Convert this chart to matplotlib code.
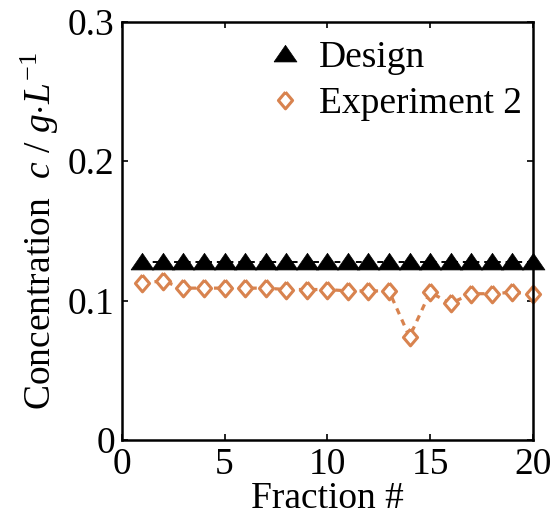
import numpy as np
import matplotlib.pyplot as plt

plt.rcParams.update({'font.family': 'Liberation Serif', 'mathtext.fontset': 'custom',
                     'mathtext.rm': 'Liberation Serif', 'mathtext.it': 'Liberation Serif:italic'})
plt.rcParams.update({'font.size': 27})

fraction = np.arange(1, 21)
design = [0.128] * 20
experiment2 = [0.113, 0.114, 0.109, 0.109, 0.109, 0.109, 0.109, 0.108, 0.108, 0.108,
               0.107, 0.107, 0.107, 0.074, 0.106, 0.098, 0.105, 0.105, 0.106, 0.105]

orange = '#d8834f'
# flat triangle and slightly tall diamond, closer to the original markers
tri = [(-1, -0.65), (1, -0.65), (0, 0.8), (-1, -0.65)]
dia = [(0, 1), (0.85, 0), (0, -1), (-0.85, 0), (0, 1)]

fig = plt.figure(figsize=(5.51, 5.19), dpi=100)
ax = fig.add_axes([0.221, 0.152, 0.746, 0.806])

# dashed connecting lines, then markers on top for the legend
ax.plot(fraction, design, ls='--', color='black', lw=1.4, dashes=(3, 2.5))
ax.plot(fraction, experiment2, ls='--', color=orange, lw=2.3, dashes=(2, 1.8))
ax.plot(fraction, design, ls='none', marker=tri, ms=16.5, mfc='black', mec='black',
        mew=0.5, label='Design', clip_on=False)
ax.plot(fraction, experiment2, ls='none', marker=dia, ms=12, mfc='white', mec=orange,
        mew=2.2, label='Experiment 2', clip_on=False)

ax.set_xlim(0, 20)
ax.set_ylim(0, 0.3)
ax.set_xticks([0, 5, 10, 15, 20])
ax.set_yticks([0, 0.1, 0.2, 0.3])
ax.set_yticklabels(['0', '0.1', '0.2', '0.3'])
ax.tick_params(direction='in', top=True, right=True, length=4, width=1.2, pad=5)
for s in ax.spines.values():
    s.set_linewidth(1.8)

ax.set_xlabel('Fraction #', labelpad=0)
ax.set_ylabel(r'Concentration  $c$ / $g$$\cdot$$L^{\mathit{-1}}$', labelpad=5)

leg = ax.legend(loc='upper left', frameon=False, handlelength=0.6, handletextpad=0.6,
                fontsize=27, labelspacing=0.3, borderaxespad=0,
                bbox_to_anchor=(0.333, 0.99))

fig.savefig('out.png', dpi=100)
